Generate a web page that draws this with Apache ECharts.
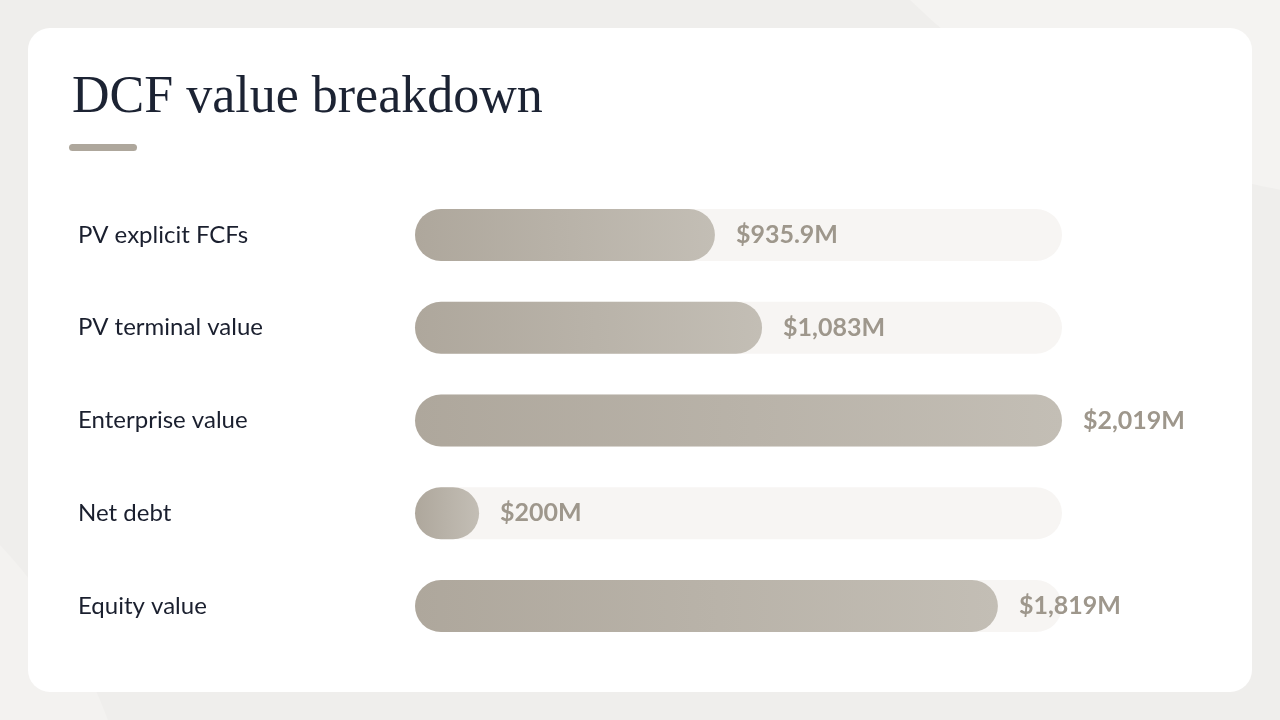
<!DOCTYPE html>
<html>
<head>
<meta charset="utf-8">
<script src="https://cdn.jsdelivr.net/npm/echarts@6/dist/echarts.min.js"></script>
<style>
  html, body { margin: 0; padding: 0; background: #efeeec; }
  #chart { width: 1280px; height: 720px; }
</style>
</head>
<body>
<div id="chart"></div>
<script>
const categories = ['PV explicit FCFs', 'PV terminal value', 'Enterprise value', 'Net debt', 'Equity value'];
const values = [935.9, 1083, 2019, 200, 1819];
const valueLabels = ['$935.9M', '$1,083M', '$2,019M', '$200M', '$1,819M'];
const trackMax = 2019;

const chart = echarts.init(document.getElementById('chart'), null, { renderer: 'canvas' });

const option = {
    backgroundColor: '#efeeec',
    animation: false,
    graphic: [
        // faint background shapes
        { type: 'circle', shape: { cx: 1400, cy: -500, r: 700 }, style: { fill: '#f4f3f1' }, z: -10 },
        { type: 'circle', shape: { cx: -380, cy: 900, r: 520 }, style: { fill: '#f3f2f0' }, z: -10 },
        // card
        {
            type: 'rect',
            shape: { x: 28, y: 28, width: 1224, height: 664, r: 22 },
            style: { fill: '#ffffff' },
            z: -5,
        },
        // accent line under title
        {
            type: 'rect',
            shape: { x: 69, y: 144, width: 68, height: 7, r: 3.5 },
            style: { fill: '#aea79c' },
        },
    ],
    title: {
        text: 'DCF value breakdown',
        left: 67,
        top: 67,
        textStyle: {
            fontFamily: 'Liberation Serif',
            fontWeight: 'normal',
            fontSize: 52,
            color: '#1c2333',
        },
    },
    grid: {
        left: 415,
        right: 218,
        top: 188.5,
        bottom: 67.5,
    },
    xAxis: {
        type: 'value',
        min: 0,
        max: trackMax,
        show: false,
    },
    yAxis: {
        type: 'category',
        data: categories,
        inverse: true,
        axisLine: { show: false },
        axisTick: { show: false },
        axisLabel: {
            align: 'left',
            margin: 337,
            padding: [4, 0, 0, 0],
            fontFamily: 'Lato',
            fontSize: 24,
            color: '#1a1f2e',
        },
    },
    series: [
        {
            name: 'track',
            type: 'bar',
            data: categories.map(() => trackMax),
            barWidth: 52,
            barGap: '-100%',
            itemStyle: { color: '#f7f5f3', borderRadius: 26 },
            silent: true,
            z: 1,
        },
        {
            name: 'value',
            type: 'bar',
            data: values,
            barWidth: 52,
            itemStyle: {
                borderRadius: 26,
                color: new echarts.graphic.LinearGradient(0, 0, 1, 0, [
                    { offset: 0, color: '#aea79c' },
                    { offset: 1, color: '#c3beb5' },
                ]),
            },
            label: {
                show: true,
                position: 'right',
                distance: 21,
                padding: [4, 0, 0, 0],
                formatter: (p) => valueLabels[p.dataIndex],
                fontFamily: 'Lato',
                fontWeight: 'bold',
                fontSize: 25,
                color: '#9e978c',
            },
            z: 2,
        },
    ],
};

chart.setOption(option);
</script>
</body>
</html>
